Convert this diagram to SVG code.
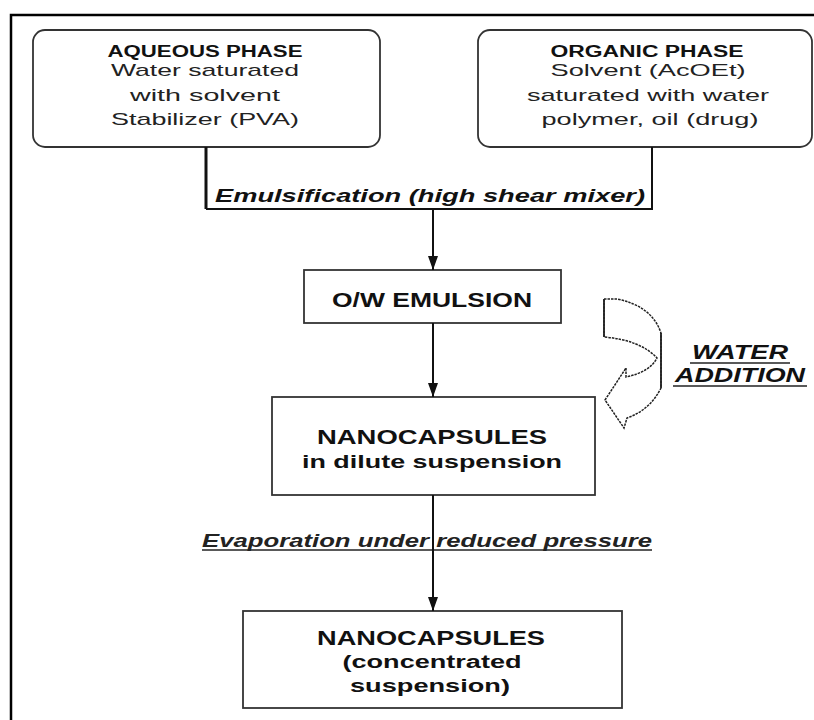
<svg xmlns="http://www.w3.org/2000/svg" width="814" height="720" viewBox="0 0 814 720">
<defs>
<style>
.frame{fill:none;stroke:#000;stroke-width:2.5}
.box{fill:#fff;stroke:#333;stroke-width:1.8}
.t{font-family:"Liberation Sans",Arial,sans-serif;fill:#222;text-anchor:middle}
.b{font-weight:bold;fill:#111}
.i{font-style:italic}
.line{fill:none;stroke:#111;stroke-width:2}
.ul{stroke:#222;stroke-width:1.6}
</style>
<marker id="ah" viewBox="0 0 14 10" refX="14" refY="5" markerWidth="14" markerHeight="10" markerUnits="userSpaceOnUse" orient="auto">
<path d="M0,0 L14,5 L0,10 Z" fill="#111"/>
</marker>
</defs>
<rect width="814" height="720" fill="#fff"/>
<path class="frame" d="M11,722 L11,15 L816,15"/>

<g id="aqueous">
<rect class="box" x="33" y="30" width="347" height="117" rx="12"/>
<text class="t b" x="205" y="57" font-size="16" textLength="195" lengthAdjust="spacingAndGlyphs">AQUEOUS PHASE</text>
<text class="t" x="205" y="76" font-size="17" textLength="188" lengthAdjust="spacingAndGlyphs">Water saturated</text>
<text class="t" x="205" y="101" font-size="17" textLength="150" lengthAdjust="spacingAndGlyphs">with solvent</text>
<text class="t" x="205" y="125" font-size="17" textLength="188" lengthAdjust="spacingAndGlyphs">Stabilizer (PVA)</text>
</g>

<g id="organic">
<rect class="box" x="478" y="30" width="334" height="117" rx="12"/>
<text class="t b" x="647" y="57" font-size="16" textLength="193" lengthAdjust="spacingAndGlyphs">ORGANIC PHASE</text>
<text class="t" x="648" y="76" font-size="17" textLength="195" lengthAdjust="spacingAndGlyphs">Solvent (AcOEt)</text>
<text class="t" x="648" y="101" font-size="17" textLength="242" lengthAdjust="spacingAndGlyphs">saturated with water</text>
<text class="t" x="650" y="125" font-size="17" textLength="217" lengthAdjust="spacingAndGlyphs">polymer, oil (drug)</text>
</g>

<g id="emulsion">
<rect class="box" x="304" y="270" width="257" height="53"/>
<text class="t b" x="432" y="307" font-size="20" textLength="200" lengthAdjust="spacingAndGlyphs">O/W EMULSION</text>
</g>

<g id="dilute">
<rect class="box" x="272" y="397" width="323" height="98"/>
<text class="t b" x="432" y="444" font-size="20" textLength="230" lengthAdjust="spacingAndGlyphs">NANOCAPSULES</text>
<text class="t b" x="432" y="468" font-size="18" textLength="260" lengthAdjust="spacingAndGlyphs">in dilute suspension</text>
</g>

<g id="concentrated">
<rect class="box" x="243" y="611" width="379" height="97"/>
<text class="t b" x="431" y="645" font-size="20" textLength="228" lengthAdjust="spacingAndGlyphs">NANOCAPSULES</text>
<text class="t b" x="432" y="668" font-size="18" textLength="179" lengthAdjust="spacingAndGlyphs">(concentrated</text>
<text class="t b" x="430" y="692" font-size="18" textLength="160" lengthAdjust="spacingAndGlyphs">suspension)</text>
</g>

<g id="water-addition">
<path d="M604,299 L617,299 Q652,306 661,333 L661,388 Q650,410 627,418 L624,428 L605,400 L626,368 L626,377 Q650,372 657,358 Q640,340 604,337 Z" fill="#fff" stroke="#222" stroke-width="1.5" stroke-dasharray="2.5 1"/>
<path d="M604,299 L604,337 M661,333 L661,388" stroke="#222" stroke-width="1.8" fill="none"/>
<text class="t b i" x="740" y="359" font-size="20" textLength="96" lengthAdjust="spacingAndGlyphs">WATER</text>
<line class="ul" x1="690" y1="363" x2="790" y2="363"/>
<text class="t b i" x="740" y="382" font-size="20" textLength="130" lengthAdjust="spacingAndGlyphs">ADDITION</text>
<line class="ul" x1="673" y1="386" x2="807" y2="386"/>
</g>

<g id="connectors">
<path d="M206,147 L206,209" fill="none" stroke="#111" stroke-width="3"/>
<path class="line" d="M206,209 L652,209 L652,147"/>
<text class="t b i" x="430" y="202" font-size="19" textLength="430" lengthAdjust="spacingAndGlyphs">Emulsification (high shear mixer)</text>
<line class="line" x1="433" y1="209" x2="433" y2="270" marker-end="url(#ah)"/>
<line class="line" x1="433" y1="323" x2="433" y2="397" marker-end="url(#ah)"/>
<text class="t i" x="427" y="547" font-size="19" textLength="450" lengthAdjust="spacingAndGlyphs" style="font-weight:bold">Evaporation under reduced pressure</text>
<line class="ul" x1="202" y1="550" x2="652" y2="550"/>
<line class="line" x1="433" y1="495" x2="433" y2="611" marker-end="url(#ah)"/>
</g>
</svg>
